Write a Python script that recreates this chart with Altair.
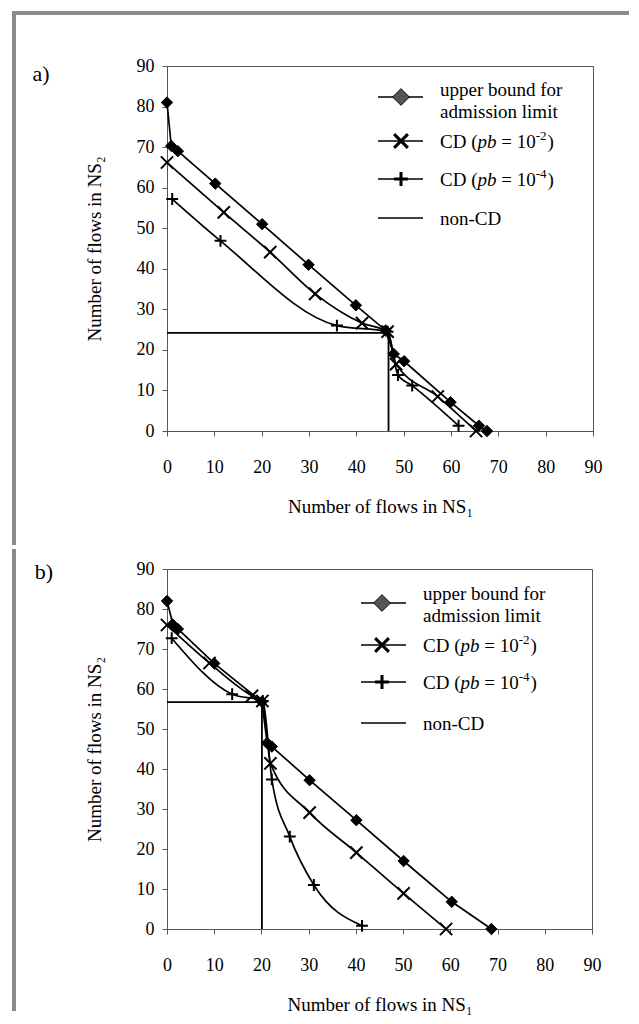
import altair as alt
import pandas as pd

# ---------------- data ----------------
TICKS = [0, 10, 20, 30, 40, 50, 60, 70, 80, 90]

# panel a)
a_ub_x = [0, 0.9, 2.3, 10.2, 20.1, 29.9, 39.9, 46.2, 47.9, 50.1, 59.9, 65.9, 67.6]
a_ub_y = [81, 70.3, 69, 61, 51, 41, 31, 24.8, 19, 17.2, 7.1, 1.3, 0]
a_cd2_x = [0, 12, 21.8, 31.3, 41.2, 46.6, 48.4, 57.2, 65.3]
a_cd2_y = [66.2, 53.9, 44.1, 33.8, 26.6, 24.5, 16.5, 8.5, 0]
a_cd4_x = [1.1, 11.3, 35.9, 46.6, 48.8, 51.8, 61.6]
a_cd4_y = [57.2, 46.9, 26.0, 24.5, 13.8, 11.2, 1.3]
a_ncd_x = [0, 46.8, 46.8]
a_ncd_y = [24.2, 24.2, 0]

# panel b)
b_ub_x = [0, 1.3, 2.3, 10, 20.1, 21.2, 22.2, 30.2, 40.1, 50.1, 60.3, 68.7]
b_ub_y = [82, 76, 75, 66.4, 56.8, 46.5, 45.6, 37.2, 27.2, 17, 6.8, 0]
b_cd2_x = [0, 9, 18, 20.2, 21.9, 30.2, 40.1, 50.1, 59.1]
b_cd2_y = [76, 66.5, 58.3, 57, 41.4, 29.1, 19.1, 8.9, 0]
b_cd4_x = [1, 13.8, 20.3, 22.2, 26, 31.1, 41.3]
b_cd4_y = [72.7, 58.7, 57, 37.4, 23.1, 11, 0.8]
b_ncd_x = [0, 20.1, 20.1]
b_ncd_y = [56.7, 56.7, 0]

X_TITLE = "Number of flows in NS₁"
Y_TITLE = "Number of flows in NS₂"
LEG_UB = ["upper bound for", "admission limit"]
LEG_NCD = "non-CD"
LEG_CD_EXP = ["-2", "-4"]

# ---------------- styling / layout ----------------
FONT = "Liberation Serif"
X_PATH = "M-1,-1L1,1M-1,1L1,-1"
PLUS_PATH = "M-1,0L1,0M0,-1L0,1"
FRAME = "#8c8c8c"
AXC = "#555555"
OX = 167  # plot origin x (page)

LAYOUT = {
    "a": dict(w=426, h=365, label="a)", lab_xy=(-126, 8),
              line=(211, 256), sym=234, rows=[31, 75, 113, 152], tx=273, ub_rows=[23, 45],
              frame_top=True, frame_y=(-53, 477)),
    "b": dict(w=425, h=360, label="b)", lab_xy=(-123, 3),
              line=(194, 239), sym=215, rows=[34, 76, 113, 154], tx=256, ub_rows=[24, 46],
              frame_top=False, frame_y=(-18, 440)),
}
FRAME_X = -153


def sdf(xs, ys):
    return pd.DataFrame({"x": xs, "y": ys, "i": list(range(len(xs)))})


DUMMY = pd.DataFrame({"k": [0]})


def make_panel(key, ubx, uby, c2x, c2y, c4x, c4y, nx, ny):
    L = LAYOUT[key]
    xenc = alt.X("x:Q", scale=alt.Scale(domain=[0, 90], nice=False, zero=False),
                 axis=alt.Axis(values=TICKS, title=X_TITLE, labelPadding=22,
                               titlePadding=21, labelFlush=False))
    yenc = alt.Y("y:Q", scale=alt.Scale(domain=[0, 90], nice=False, zero=False),
                 axis=alt.Axis(values=TICKS, title=Y_TITLE, labelPadding=8,
                               titlePadding=32, labelFlush=False))
    enc = dict(x=xenc, y=yenc, order="i:Q")

    layers = []
    # lines
    layers.append(alt.Chart(sdf(ubx, uby)).mark_line(
        color="black", strokeWidth=1.7).encode(**enc))
    for xs, ys in [(c2x, c2y), (c4x, c4y)]:
        layers.append(alt.Chart(sdf(xs, ys)).mark_line(
            interpolate="monotone", color="black", strokeWidth=1.7).encode(**enc))
    layers.append(alt.Chart(sdf(nx, ny)).mark_line(
        color="black", strokeWidth=1.8).encode(**enc))
    # markers
    layers.append(alt.Chart(sdf(ubx, uby)).mark_point(
        shape="diamond", filled=True, fill="black", stroke="black", strokeWidth=1,
        size=130, opacity=1).encode(x=xenc, y=yenc))
    layers.append(alt.Chart(sdf(c2x, c2y)).mark_point(
        shape=X_PATH, filled=False, stroke="black", strokeWidth=2,
        size=150, opacity=1).encode(x=xenc, y=yenc))
    layers.append(alt.Chart(sdf(c4x, c4y)).mark_point(
        shape=PLUS_PATH, filled=False, stroke="black", strokeWidth=2,
        size=140, opacity=1).encode(x=xenc, y=yenc))

    # ---- manual legend ----
    x1, x2 = L["line"]
    for r in L["rows"]:
        layers.append(alt.Chart(DUMMY).mark_rule(color="black", strokeWidth=1.5).encode(
            x=alt.value(x1), x2=alt.value(x2), y=alt.value(r)))
    layers.append(alt.Chart(DUMMY).mark_point(
        shape="diamond", filled=True, fill="#555555", stroke="black", strokeWidth=1,
        size=280, opacity=1).encode(x=alt.value(L["sym"]), y=alt.value(L["rows"][0])))
    layers.append(alt.Chart(DUMMY).mark_point(
        shape=X_PATH, filled=False, stroke="black", strokeWidth=3,
        size=190, opacity=1).encode(x=alt.value(L["sym"]), y=alt.value(L["rows"][1])))
    layers.append(alt.Chart(DUMMY).mark_point(
        shape=PLUS_PATH, filled=False, stroke="black", strokeWidth=3,
        size=190, opacity=1).encode(x=alt.value(L["sym"]), y=alt.value(L["rows"][2])))

    tx = L["tx"]
    for txt, yy in zip(LEG_UB, L["ub_rows"]):
        layers.append(alt.Chart(DUMMY).mark_text(
            text=txt, font=FONT, fontSize=19, align="left", baseline="alphabetic",
            color="black").encode(x=alt.value(tx), y=alt.value(yy + 6.5)))
    for exp, rc in zip(LEG_CD_EXP, L["rows"][1:3]):
        bl = rc + 6.5
        pieces = [("CD (", "normal", 19, 0, 0), ("pb", "italic", 19, 37.5, 0),
                  ("= 10", "normal", 19, 61.2, 0), (exp, "normal", 13, 95.7, -8),
                  (")", "normal", 19, 107.5, 0)]
        for t, st, fs, dx, dy in pieces:
            layers.append(alt.Chart(DUMMY).mark_text(
                text=t, font=FONT, fontSize=fs, fontStyle=st, align="left",
                baseline="alphabetic", color="black").encode(
                x=alt.value(tx + dx), y=alt.value(bl + dy)))
    layers.append(alt.Chart(DUMMY).mark_text(
        text=LEG_NCD, font=FONT, fontSize=19, align="left", baseline="alphabetic",
        color="black").encode(x=alt.value(tx), y=alt.value(L["rows"][3] + 6.5)))

    # panel label a) / b)
    lx, ly = L["lab_xy"]
    layers.append(alt.Chart(DUMMY).mark_text(
        text=L["label"], font=FONT, fontSize=22, align="center", baseline="middle",
        color="black").encode(x=alt.value(lx), y=alt.value(ly)))

    # grey page frame
    fy1, fy2 = L["frame_y"]
    layers.append(alt.Chart(DUMMY).mark_rule(color=FRAME, strokeWidth=4, strokeCap="square").encode(
        x=alt.value(FRAME_X), y=alt.value(fy1), y2=alt.value(fy2)))
    if L["frame_top"]:
        layers.append(alt.Chart(DUMMY).mark_rule(color=FRAME, strokeWidth=4).encode(
            x=alt.value(FRAME_X - 2), x2=alt.value(629 - OX), y=alt.value(fy1)))

    return alt.layer(*layers).properties(width=L["w"], height=L["h"])


pa = make_panel("a", a_ub_x, a_ub_y, a_cd2_x, a_cd2_y, a_cd4_x, a_cd4_y, a_ncd_x, a_ncd_y)
pb = make_panel("b", b_ub_x, b_ub_y, b_cd2_x, b_cd2_y, b_cd4_x, b_cd4_y, b_ncd_x, b_ncd_y)

chart = alt.vconcat(pa, pb, spacing=0).properties(
    padding={"left": 9, "top": 9, "right": 0, "bottom": 0},
    background="white",
).configure_view(
    stroke=AXC, strokeWidth=1
).configure_axis(
    labelFont=FONT, titleFont=FONT, labelFontSize=18, titleFontSize=19,
    labelColor="black", titleColor="black", titleFontWeight="normal",
    domainColor=AXC, tickColor=AXC, tickSize=5, grid=False,
)

chart.save("out.html", embed_options={"renderer": "svg", "actions": False})
